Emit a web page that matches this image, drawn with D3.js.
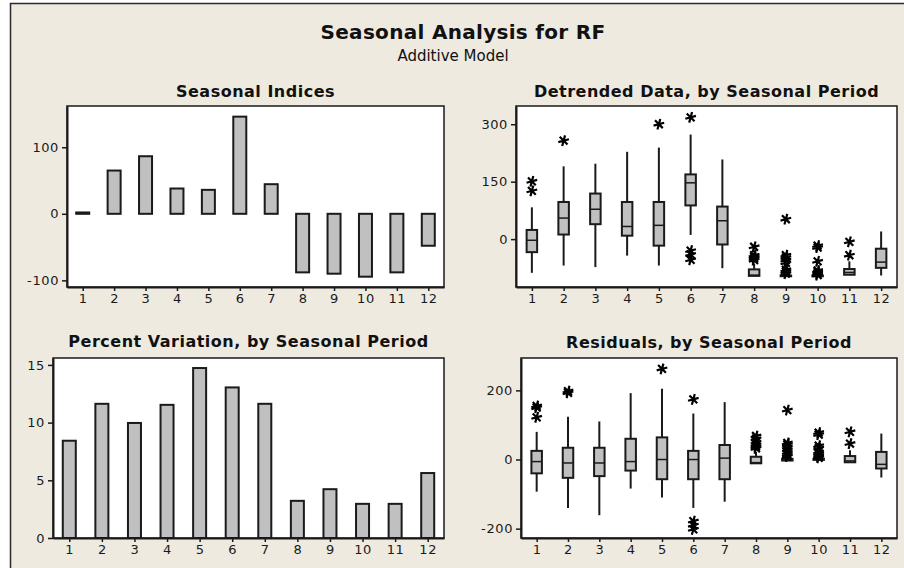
<!DOCTYPE html>
<html>
<head>
<meta charset="utf-8">
<script src="https://cdn.jsdelivr.net/npm/d3@7"></script>
<style>
  body { margin: 0; background: #fff; }
  svg { display: block; font-family: "DejaVu Sans", sans-serif; }
</style>
</head>
<body>
<div id="chart"></div>
<script>
const periods = [1, 2, 3, 4, 5, 6, 7, 8, 9, 10, 11, 12];

const seasonalIndices = [2, 65, 86.5, 38, 36, 146, 44.5, -88, -90, -94.5, -88, -48];
const percentVariation = [8.43, 11.63, 9.97, 11.54, 14.73, 13.05, 11.63, 3.22, 4.23, 2.96, 2.96, 5.63];

// detrended data, by period
const detLow    = [-88, -69, -73, -43, -69, 11, -76, -96, -97, -97, -93, -95];
const detQ1     = [-34, 12, 39, 9, -17, 88, -14, -96, -97, -97, -93, -75];
const detMedian = [-3, 55, 78, 33, 36, 147, 48, -94, -96, -96, -87, -60];
const detQ3     = [24, 97, 119, 97, 97, 169, 85, -79, -95, -95, -78, -25];
const detHigh   = [83, 190, 197, 228, 239, 273, 208, -64, -94, -94, -58, 20];
const detOutliers = [
  [151, 126], [257], [], [], [300], [318, -30, -40, -54], [],
  [-20, -42, -46, -50, -55], [52, -42, -48, -55, -62, -80, -85, -90],
  [-17, -22, -58, -82, -86, -90, -94], [-7, -42], []
];

// residuals, by period
const resLow    = [-93, -140, -161, -84, -110, -140, -122, -11, -5, -3, -8, -52];
const resQ1     = [-40, -53, -48, -32, -57, -57, -57, -11, -3, -1, -8, -26];
const resMedian = [-6, -10, -10, -6, 0, 0, 4, -9, -1, 0, -4, -14];
const resQ3     = [25, 34, 34, 60, 64, 25, 42, 8, 2, 2, 10, 22];
const resHigh   = [80, 124, 110, 192, 205, 133, 166, 22, 5, 5, 27, 75];
const resOutliers = [
  [155, 150, 122], [198, 193], [], [], [262], [174, -178, -190, -202], [],
  [68, 60, 50, 43, 37, 32], [143, 48, 43, 36, 28, 20, 14, 9],
  [78, 72, 40, 33, 22, 17, 12, 8, 5], [80, 46], []
];

const indexTicks = [-100, 0, 100];
const detTicks = [0, 150, 300];
const pctTicks = [0, 5, 10, 15];
const resTicks = [-200, 0, 200];

const width = 904;
const height = 568;
const fillGray = "#c0c0c0";
const ink = "#1a1a1a";

const svg = d3.select("#chart").append("svg")
  .attr("width", width)
  .attr("height", height);

// window frame
svg.append("rect")
  .attr("x", 10.5).attr("y", 3.5)
  .attr("width", width + 20).attr("height", height + 20)
  .attr("fill", "#eeeae0")
  .attr("stroke", "#2a2a2a")
  .attr("stroke-width", 1.5);

svg.append("text")
  .attr("x", 463).attr("y", 39)
  .attr("text-anchor", "middle")
  .attr("font-size", 20).attr("font-weight", "bold")
  .attr("letter-spacing", 0.3)
  .attr("fill", "#111")
  .text("Seasonal Analysis for RF");

svg.append("text")
  .attr("x", 453).attr("y", 61)
  .attr("text-anchor", "middle")
  .attr("font-size", 15)
  .attr("fill", "#111")
  .text("Additive Model");

const panels = [
  { box: [67, 106, 444, 287], domain: [-110, 162], ticks: indexTicks, title: "Seasonal Indices", titleY: 97, kind: "bar", values: seasonalIndices },
  { box: [516, 106, 897, 287], domain: [-125, 347.6], ticks: detTicks, title: "Detrended Data, by Seasonal Period", titleY: 97, kind: "box",
    low: detLow, q1: detQ1, med: detMedian, q3: detQ3, high: detHigh, out: detOutliers },
  { box: [53, 358, 444, 538], domain: [0, 15.6], ticks: pctTicks, title: "Percent Variation, by Seasonal Period", titleY: 347, kind: "bar", values: percentVariation },
  { box: [521, 358, 897, 538], domain: [-227, 293.6], ticks: resTicks, title: "Residuals, by Seasonal Period", titleY: 348, kind: "box",
    low: resLow, q1: resQ1, med: resMedian, q3: resQ3, high: resHigh, out: resOutliers }
];

// minitab writes negatives with a plain hyphen
const tickFmt = d => (d < 0 ? "-" + Math.abs(d) : String(d));

panels.forEach(p => {
  const [x0, y0, x1, y1] = p.box;
  const x = d3.scaleLinear().domain([0.5, 12.5]).range([x0, x1]);
  const y = d3.scaleLinear().domain(p.domain).range([y1, y0]);
  const g = svg.append("g");

  g.append("text")
    .attr("x", (x0 + x1) / 2).attr("y", p.titleY)
    .attr("text-anchor", "middle")
    .attr("font-size", 16).attr("font-weight", "bold")
    .attr("letter-spacing", 0.5)
    .attr("fill", "#111")
    .text(p.title);

  g.append("rect")
    .attr("x", x0).attr("y", y0)
    .attr("width", x1 - x0).attr("height", y1 - y0)
    .attr("fill", "#fff");

  if (p.kind === "bar") {
    g.selectAll("rect.bar")
      .data(periods)
      .join("rect")
      .attr("class", "bar")
      .attr("x", d => x(d) - 6.5)
      .attr("width", 13)
      .attr("y", (d, i) => y(Math.max(p.values[i], 0)))
      .attr("height", (d, i) => Math.abs(y(p.values[i]) - y(0)))
      .attr("fill", fillGray)
      .attr("stroke", ink)
      .attr("stroke-width", 2);
  } else {
    const bw = 10.5;
    const boxes = g.selectAll("g.period")
      .data(periods)
      .join("g")
      .attr("class", "period");

    boxes.append("line")
      .attr("x1", d => x(d)).attr("x2", d => x(d))
      .attr("y1", (d, i) => y(p.high[i])).attr("y2", (d, i) => y(p.q3[i]))
      .attr("stroke", ink).attr("stroke-width", 2);
    boxes.append("line")
      .attr("x1", d => x(d)).attr("x2", d => x(d))
      .attr("y1", (d, i) => y(p.q1[i])).attr("y2", (d, i) => y(p.low[i]))
      .attr("stroke", ink).attr("stroke-width", 2);
    boxes.append("rect")
      .attr("x", d => x(d) - bw / 2)
      .attr("width", bw)
      .attr("y", (d, i) => y(p.q3[i]))
      .attr("height", (d, i) => Math.max(y(p.q1[i]) - y(p.q3[i]), 0.5))
      .attr("fill", fillGray)
      .attr("stroke", ink).attr("stroke-width", 2);
    boxes.append("line")
      .attr("x1", d => x(d) - bw / 2).attr("x2", d => x(d) + bw / 2)
      .attr("y1", (d, i) => y(p.med[i])).attr("y2", (d, i) => y(p.med[i]))
      .attr("stroke", ink).attr("stroke-width", 1.5);

    const star = d3.symbol(d3.symbolAsterisk, 85);
    boxes.selectAll("path.out")
      .data((d, i) => p.out[i].map(v => [d, v]))
      .join("path")
      .attr("class", "out")
      .attr("transform", d => `translate(${x(d[0])},${y(d[1])}) rotate(15)`)
      .attr("d", star)
      .attr("fill", "none")
      .attr("stroke", "#000")
      .attr("stroke-width", 2.2);
  }

  g.append("rect")
    .attr("x", x0).attr("y", y0)
    .attr("width", x1 - x0).attr("height", y1 - y0)
    .attr("fill", "none")
    .attr("stroke", ink)
    .attr("stroke-width", 1.5);

  const yAxis = g.append("g")
    .attr("transform", `translate(${x0},0)`)
    .call(d3.axisLeft(y).tickValues(p.ticks).tickFormat(tickFmt).tickSize(5).tickSizeOuter(0).tickPadding(3));
  const xAxis = g.append("g")
    .attr("transform", `translate(0,${y1})`)
    .call(d3.axisBottom(x).tickValues(periods).tickSize(4).tickSizeOuter(0).tickPadding(3));

  [yAxis, xAxis].forEach(a => {
    a.select(".domain").attr("stroke", ink).attr("stroke-width", 2);
    a.selectAll(".tick line").attr("stroke", ink).attr("stroke-width", 1.5);
    a.selectAll(".tick text")
      .attr("font-family", "DejaVu Sans, sans-serif")
      .attr("font-size", 13)
      .attr("letter-spacing", 0.6)
      .attr("fill", "#1a1a1a");
  });
});
</script>
</body>
</html>
